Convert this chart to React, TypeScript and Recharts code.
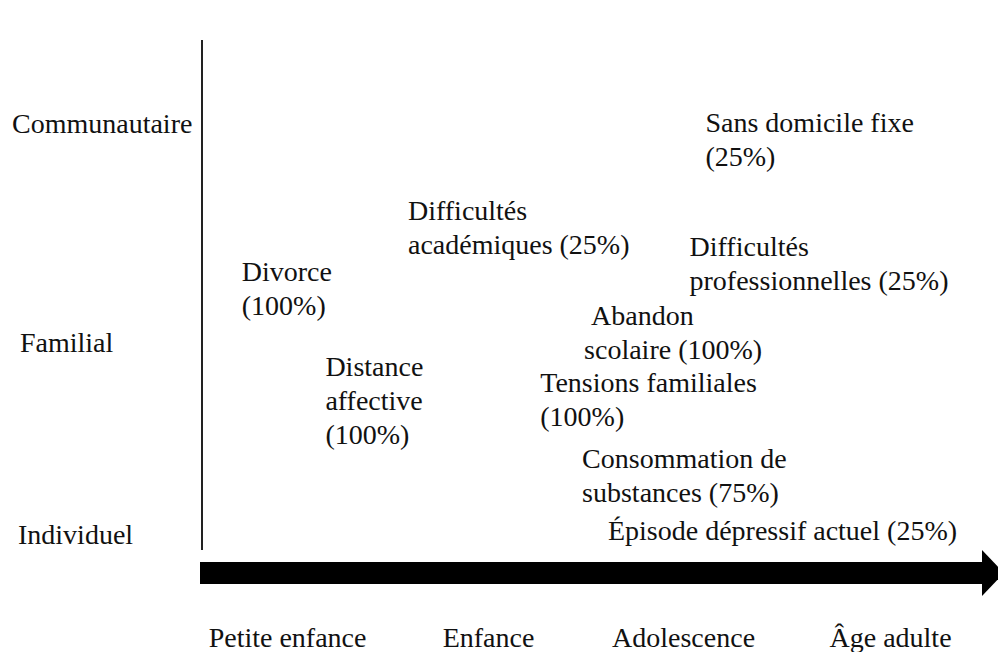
import { ScatterChart, Scatter, XAxis, YAxis, Customized } from "recharts";

const stages = ["Petite enfance", "Enfance", "Adolescence", "Âge adulte"];
const stagePos = [0.43, 1.44, 2.42, 3.46];

const levels = ["Individuel", "Familial", "Communautaire"];
const levelPos = [0.09, 1.22, 2.51];

const events = [
  "Divorce",
  "Distance affective",
  "Difficultés académiques",
  "Tensions familiales",
  "Abandon scolaire",
  "Consommation de substances",
  "Épisode dépressif actuel",
  "Difficultés professionnelles",
  "Sans domicile fixe",
];
// how each label wraps; an empty last line puts the share on its own line
const eventLines = [
  ["Divorce", ""],
  ["Distance", "affective", ""],
  ["Difficultés", "académiques"],
  ["Tensions familiales", ""],
  ["Abandon", "scolaire"],
  ["Consommation de", "substances"],
  ["Épisode dépressif actuel"],
  ["Difficultés", "professionnelles"],
  ["Sans domicile fixe", ""],
];
const eventAge = [0.2, 0.62, 1.035, 1.7, 1.92, 1.91, 2.04, 2.45, 2.53];
const eventLevel = [1.64, 1.08, 2.0, 0.99, 1.38, 0.54, 0.12, 1.79, 2.52];
const eventShare = [100, 100, 25, 100, 100, 75, 25, 25, 25];

const FONT = "'Liberation Serif', 'Times New Roman', serif";
const FS = 28;
const INK = "#111";
const LINE_H = 34;
const firstIndent: Record<string, number> = { "Abandon scolaire": 7 };
const levelIndent: Record<string, number> = { Individuel: 18, Familial: 20, Communautaire: 12 };

const data = events.map((name, i) => ({
  name,
  x: eventAge[i],
  y: eventLevel[i],
  lines: eventLines[i].map((l, j, arr) =>
    j === arr.length - 1 ? `${l}${l ? " " : ""}(${eventShare[i]}%)` : l
  ),
}));

function EventLabel(props: any) {
  const { cx, cy, payload } = props;
  return (
    <text fontFamily={FONT} fontSize={FS} fill={INK} dominantBaseline="central">
      {payload.lines.map((l: string, j: number) => (
        <tspan key={j} x={cx + (j === 0 ? firstIndent[payload.name] ?? 0 : 0)} y={cy + j * LINE_H}>
          {l}
        </tspan>
      ))}
    </text>
  );
}

function LevelTick(props: any) {
  const { y, payload } = props;
  const label = levels[levelPos.indexOf(payload.value)];
  return (
    <text x={levelIndent[label]} y={y} fontFamily={FONT} fontSize={FS} fill={INK} dominantBaseline="central">
      {label}
    </text>
  );
}

function StageTick(props: any) {
  const { x, payload } = props;
  const label = stages[stagePos.indexOf(payload.value)];
  return (
    <text x={x} y={637} fontFamily={FONT} fontSize={FS} fill={INK} textAnchor="middle" dominantBaseline="central">
      {label}
    </text>
  );
}

function TimeArrow() {
  return (
    <g>
      <rect x={200} y={562} width={784} height={22} fill="#000" />
      <polygon points="982,550 1004,573 982,596" fill="#000" />
    </g>
  );
}

export default function App() {
  return (
    <div style={{ position: "absolute", left: 0, top: 0, width: 998, height: 652, background: "#fff" }}>
      <ScatterChart width={998} height={652} margin={{ top: 40, right: 0, bottom: 0, left: 0 }}>
        <XAxis
          type="number"
          dataKey="x"
          domain={[0, 4]}
          ticks={stagePos}
          height={102}
          axisLine={false}
          tickLine={false}
          tick={<StageTick />}
          interval={0}
        />
        <YAxis
          type="number"
          dataKey="y"
          domain={[0, 3]}
          ticks={levelPos}
          width={202}
          axisLine={{ stroke: "#222", strokeWidth: 2 }}
          tickLine={false}
          tick={<LevelTick />}
          interval={0}
        />
        <Scatter data={data} shape={<EventLabel />} isAnimationActive={false} />
        <Customized component={TimeArrow} />
      </ScatterChart>
    </div>
  );
}
